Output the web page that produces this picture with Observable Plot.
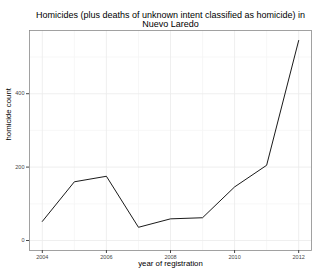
<!DOCTYPE html>
<html>
<head>
<meta charset="utf-8">
<script src="https://cdn.jsdelivr.net/npm/d3@7"></script>
<script src="https://cdn.jsdelivr.net/npm/@observablehq/plot@0.6"></script>
<style>
html,body{margin:0;padding:0;background:#fff;}
</style>
</head>
<body>
<div id="chart"></div>
<script>
const years = [2004, 2005, 2006, 2007, 2008, 2009, 2010, 2011, 2012];
const homicides = [52, 160, 175, 36, 59, 62, 146, 205, 545];
const xTicks = [2004, 2006, 2008, 2010, 2012];
const yTicks = [0, 200, 400];
const xMinor = [2005, 2007, 2009, 2011];
const yMinor = [100, 300, 500];
const titleText = "Homicides (plus deaths of unknown intent classified as homicide) in\nNuevo Laredo";

const data = years.map((y, i) => ({year: y, count: homicides[i]}));
const font = "Liberation Sans, Arial, Helvetica, sans-serif";

const chart = Plot.plot({
  width: 320,
  height: 274,
  marginLeft: 29,
  marginRight: 9,
  marginTop: 30,
  marginBottom: 24,
  style: {fontFamily: font, background: "#fff"},
  x: {domain: [2003.6, 2012.4], ticks: xTicks, tickFormat: d => String(d), label: null, axis: null},
  y: {domain: [-27.25, 572.25], ticks: yTicks, label: null, axis: null},
  marks: [
    Plot.gridX(xMinor, {stroke: "#f5f5f5", strokeOpacity: 1, strokeWidth: 0.8}),
    Plot.gridY(yMinor, {stroke: "#f5f5f5", strokeOpacity: 1, strokeWidth: 0.8}),
    Plot.gridX(xTicks, {stroke: "#ebebeb", strokeOpacity: 1, strokeWidth: 0.8}),
    Plot.gridY(yTicks, {stroke: "#ebebeb", strokeOpacity: 1, strokeWidth: 0.8}),
    Plot.frame({stroke: "#8a8a8a", strokeWidth: 0.8}),
    Plot.axisX({ticks: xTicks, tickFormat: d => String(d), tickSize: 3, tickPadding: 1.5, fontSize: 5.5, color: "#444", label: null}),
    Plot.axisY({ticks: yTicks, tickSize: 3, tickPadding: 2, fontSize: 5.5, color: "#444", label: null}),
    Plot.line(data, {x: "year", y: "count", stroke: "#000", strokeWidth: 0.9}),
    Plot.text([titleText], {frameAnchor: "top", dy: -3.5, lineAnchor: "bottom", fontSize: 9, fill: "#000", lineHeight: 1.05}),
    Plot.text(["year of registration"], {frameAnchor: "bottom", dy: 12.5, lineAnchor: "middle", fontSize: 7.8, fill: "#000"}),
    Plot.text(["homicide count"], {frameAnchor: "left", dx: -21, rotate: -90, fontSize: 7.8, fill: "#000"})
  ]
});
document.getElementById("chart").appendChild(chart);
</script>
</body>
</html>
